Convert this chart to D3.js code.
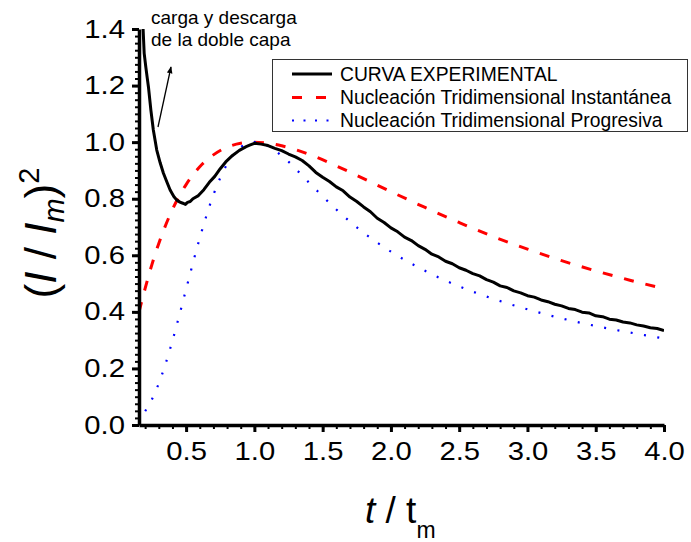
<!DOCTYPE html>
<meta charset="utf-8">
<script src="https://d3js.org/d3.v7.min.js"></script>
<style>
  body { margin: 0; background: #fff; }
  svg { font-family: "Liberation Sans", Arial, sans-serif; }
  .axis path, .axis line { stroke: #000; }
  .axis text { font-size: 25px; fill: #000; }
</style>
<body></body>
<script>
  // data
  var expT = [0.180, 0.185, 0.193, 0.205, 0.215, 0.224, 0.242, 0.260, 0.285, 0.310, 0.334, 0.360, 0.383, 0.410, 0.432,
    0.455, 0.476, 0.495, 0.510, 0.530, 0.550, 0.590, 0.630, 0.670, 0.710, 0.750, 0.790, 0.840, 0.890, 0.940, 0.970,
    1.00, 1.05, 1.10, 1.15, 1.20, 1.25, 1.30, 1.35, 1.40, 1.45, 1.50, 1.55, 1.60, 1.65, 1.70, 1.75, 1.80, 1.85,
    1.90, 1.95, 2.00, 2.05, 2.10, 2.15, 2.20, 2.25, 2.30, 2.35, 2.40, 2.45, 2.50, 2.55, 2.60, 2.65, 2.70, 2.75,
    2.80, 2.85, 2.90, 2.95, 3.00, 3.05, 3.10, 3.15, 3.20, 3.25, 3.30, 3.35, 3.40, 3.45, 3.50, 3.55, 3.60, 3.65,
    3.70, 3.75, 3.80, 3.85, 3.90, 3.95, 4.00];
  var expV = [1.46, 1.40, 1.314, 1.265, 1.228, 1.196, 1.113, 1.043, 0.972, 0.927, 0.890, 0.858, 0.831, 0.808, 0.795,
    0.788, 0.784, 0.780, 0.787, 0.790, 0.800, 0.811, 0.832, 0.858, 0.879, 0.906, 0.930, 0.953, 0.971, 0.984, 0.990,
    0.996, 0.993, 0.988, 0.978, 0.970, 0.958, 0.948, 0.935, 0.916, 0.893, 0.876, 0.861, 0.842, 0.828, 0.806, 0.790,
    0.771, 0.754, 0.731, 0.716, 0.697, 0.683, 0.664, 0.652, 0.634, 0.621, 0.604, 0.594, 0.579, 0.570, 0.556, 0.547,
    0.535, 0.527, 0.514, 0.505, 0.492, 0.486, 0.474, 0.467, 0.457, 0.452, 0.442, 0.436, 0.427, 0.421, 0.412, 0.408,
    0.399, 0.396, 0.386, 0.383, 0.374, 0.371, 0.364, 0.361, 0.354, 0.350, 0.344, 0.341, 0.334];

  var instT = [0.155, 0.20, 0.25, 0.30, 0.40, 0.50, 0.60, 0.70, 0.80, 0.90, 1.00, 1.20, 1.40, 1.60, 1.80, 2.00,
    2.25, 2.50, 2.75, 3.00, 3.25, 3.50, 3.75, 4.00];
  var instV = [0.40, 0.483, 0.568, 0.642, 0.762, 0.850, 0.913, 0.955, 0.982, 0.996, 1.000, 0.987, 0.957, 0.916,
    0.871, 0.825, 0.769, 0.716, 0.666, 0.622, 0.581, 0.545, 0.512, 0.482];

  var progT = [0.20, 0.25, 0.30, 0.35, 0.40, 0.45, 0.50, 0.60, 0.70, 0.80, 0.90, 1.00, 1.10, 1.20, 1.40, 1.60,
    1.80, 2.00, 2.25, 2.50, 2.75, 3.00, 3.25, 3.50, 3.75, 4.00];
  var progV = [0.049, 0.091, 0.147, 0.217, 0.298, 0.387, 0.480, 0.661, 0.814, 0.922, 0.982, 1.000, 0.986, 0.952,
    0.857, 0.762, 0.680, 0.613, 0.545, 0.490, 0.446, 0.409, 0.377, 0.350, 0.327, 0.306];

  var xTicks = [0.5, 1.0, 1.5, 2.0, 2.5, 3.0, 3.5, 4.0];
  var yTicks = [0.0, 0.2, 0.4, 0.6, 0.8, 1.0, 1.2, 1.4];
  var seriesNames = ['CURVA EXPERIMENTAL', 'Nucleación Tridimensional Instantánea', 'Nucleación Tridimensional Progresiva'];

  var width = 691, height = 542;
  var mLeft = 139, mRight = 664, mTop = 29, mBottom = 425;
  var stretch = 1.17; // tick labels are a bit wider than plain Arial in the original

  var svg = d3.select('body').append('svg')
    .attr('width', width).attr('height', height);

  var x = d3.scaleLinear().domain([0.155, 4.0]).range([mLeft, mRight]);
  var y = d3.scaleLinear().domain([0, 1.4]).range([mBottom, mTop]);

  svg.append('clipPath').attr('id', 'plot')
    .append('rect').attr('x', mLeft).attr('y', mTop).attr('width', mRight - mLeft).attr('height', mBottom - mTop);

  function pts(ts, vs) {
    return ts.map(function(t, i) { return [t, vs[i]]; });
  }
  var line = d3.line().x(function(d) { return x(d[0]); }).y(function(d) { return y(d[1]); });
  var curve = d3.line().curve(d3.curveMonotoneX).x(function(d) { return x(d[0]); }).y(function(d) { return y(d[1]); });

  var g = svg.append('g').attr('clip-path', 'url(#plot)');
  g.append('path').datum(pts(instT, instV)).attr('d', curve)
    .attr('fill', 'none').attr('stroke', '#f00').attr('stroke-width', 3).attr('stroke-dasharray', '10,12');
  g.append('path').datum(pts(progT, progV)).attr('d', curve)
    .attr('fill', 'none').attr('stroke', '#00f').attr('stroke-width', 2.2).attr('stroke-dasharray', '2,11.5');
  g.append('path').datum(pts(expT, expV)).attr('d', line)
    .attr('fill', 'none').attr('stroke', '#000').attr('stroke-width', 3).attr('stroke-linejoin', 'round');

  // minor ticks
  svg.append('g').attr('class', 'axis').attr('transform', 'translate(0,' + mBottom + ')')
    .call(d3.axisBottom(x).tickValues(d3.range(0.2, 4.001, 0.1)).tickSize(4).tickFormat(''))
    .call(function(s) { s.select('.domain').remove(); s.selectAll('line').attr('stroke-width', 2); });
  svg.append('g').attr('class', 'axis').attr('transform', 'translate(' + mLeft + ',0)')
    .call(d3.axisLeft(y).tickValues(d3.range(0, 1.401, 0.025)).tickSize(4).tickFormat(''))
    .call(function(s) { s.select('.domain').remove(); s.selectAll('line').attr('stroke-width', 2); });

  // major axes
  svg.append('g').attr('class', 'axis').attr('transform', 'translate(0,' + mBottom + ')')
    .call(d3.axisBottom(x).tickValues(xTicks).tickSize(7).tickSizeOuter(0).tickPadding(10).tickFormat(d3.format('.1f')))
    .call(function(s) {
      s.select('.domain').attr('stroke-width', 3.5);
      s.selectAll('line').attr('stroke-width', 3);
      s.selectAll('text').attr('transform', 'scale(' + stretch + ',1)');
    });
  svg.append('g').attr('class', 'axis').attr('transform', 'translate(' + mLeft + ',0)')
    .call(d3.axisLeft(y).tickValues(yTicks).tickSize(7).tickSizeOuter(0).tickPadding(7).tickFormat(d3.format('.1f')))
    .call(function(s) {
      s.select('.domain').attr('stroke-width', 3.5);
      s.selectAll('line').attr('stroke-width', 3);
      s.selectAll('text').attr('transform', 'translate(-14,0) scale(' + stretch + ',1) translate(14,0)');
    });

  // axis titles
  var xt = svg.append('text').attr('x', 365).attr('y', 523).attr('font-size', 37);
  xt.append('tspan').attr('font-style', 'italic').text('t');
  xt.append('tspan').text(' / t');
  xt.append('tspan').attr('font-size', 23).attr('dy', 15).text('m');

  var yt = svg.append('text').attr('transform', 'translate(56,233) rotate(-90)')
    .attr('text-anchor', 'middle').attr('font-size', 44);
  yt.append('tspan').text('(');
  yt.append('tspan').attr('font-style', 'italic').text('I');
  yt.append('tspan').text(' / ');
  yt.append('tspan').attr('font-style', 'italic').text('I');
  yt.append('tspan').attr('font-style', 'italic').attr('font-size', 29).attr('dy', 8).text('m');
  yt.append('tspan').attr('dy', -8).text(')');
  yt.append('tspan').attr('font-size', 29).attr('dy', -17).text('2');

  // annotation
  svg.append('text').attr('x', 151).attr('y', 24).attr('font-size', 19).text('carga y descarga');
  svg.append('text').attr('x', 151).attr('y', 46).attr('font-size', 19).text('de la doble capa');
  svg.append('defs').append('marker').attr('id', 'arrow')
    .attr('viewBox', '0 0 10 10').attr('refX', 9).attr('refY', 5)
    .attr('markerWidth', 7).attr('markerHeight', 7).attr('orient', 'auto').attr('markerUnits', 'userSpaceOnUse')
    .append('path').attr('d', 'M0,1 L10,5 L0,9 Z').attr('fill', '#000');
  svg.append('line').attr('x1', 158).attr('y1', 127).attr('x2', 171).attr('y2', 67)
    .attr('stroke', '#000').attr('stroke-width', 1.3).attr('marker-end', 'url(#arrow)');

  // legend
  var lg = svg.append('g');
  lg.append('rect').attr('x', 272.5).attr('y', 59.5).attr('width', 415).attr('height', 72)
    .attr('fill', '#fff').attr('stroke', '#333').attr('stroke-width', 1);
  var styles = [
    {stroke: '#000', w: 3, dash: null},
    {stroke: '#f00', w: 3, dash: '10,14'},
    {stroke: '#00f', w: 2.2, dash: '2,9.5'}
  ];
  var rows = [74, 97.5, 120.5];
  seriesNames.forEach(function(name, i) {
    lg.append('line').attr('x1', 292).attr('x2', 332).attr('y1', rows[i]).attr('y2', rows[i])
      .attr('stroke', styles[i].stroke).attr('stroke-width', styles[i].w)
      .attr('stroke-dasharray', styles[i].dash);
    lg.append('text').attr('x', 340).attr('y', rows[i] + 6.5).attr('font-size', 19.3).text(name);
  });
</script>
